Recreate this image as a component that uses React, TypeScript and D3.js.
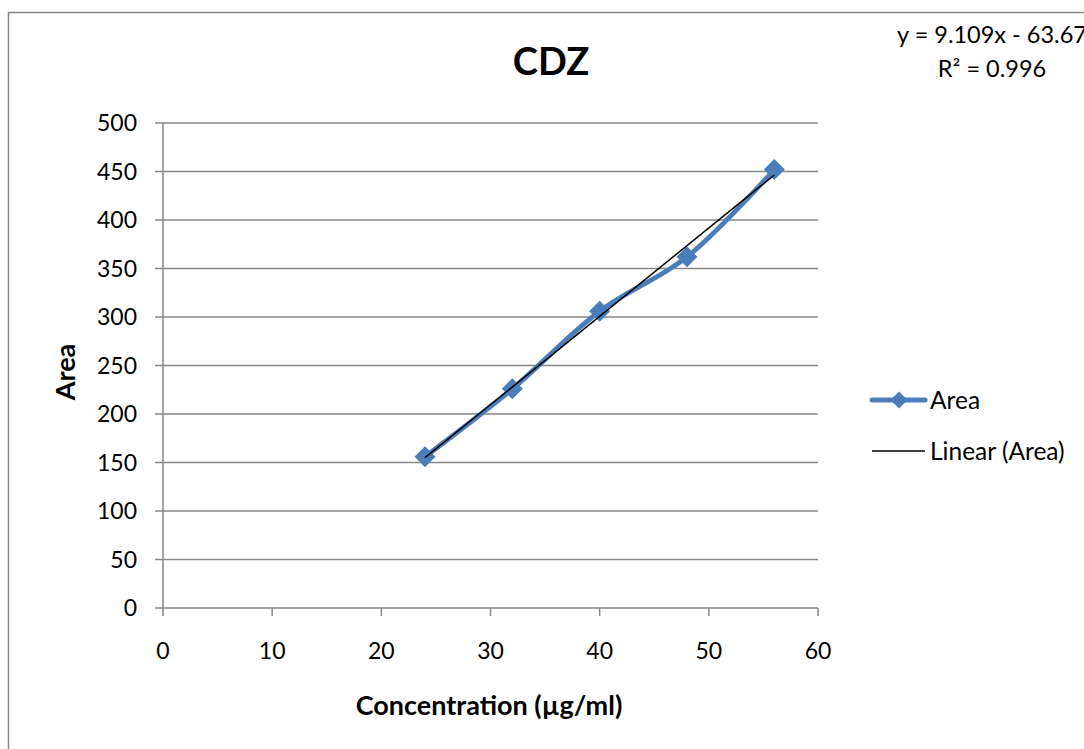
import React from "react";
import * as d3 from "d3";

const concentrations = [24, 32, 40, 48, 56];
const areas = [156, 226, 306, 362, 452];
const xTicks = [0, 10, 20, 30, 40, 50, 60];
const yTicks = [0, 50, 100, 150, 200, 250, 300, 350, 400, 450, 500];
const slope = 9.109;
const intercept = -63.67;
const r2 = 0.996;

const W = 1084, H = 749;
const FONT = "Lato, 'Open Sans', sans-serif";

export default function App() {
  const x = d3.scaleLinear().domain([0, 60]).range([163, 818]);
  const y = d3.scaleLinear().domain([0, 500]).range([608, 123]);
  const pts: [number, number][] = concentrations.map((c, i) => [x(c), y(areas[i])]);
  const line = d3.line().curve(d3.curveCatmullRom.alpha(0.5));
  const xmin = d3.min(concentrations)!, xmax = d3.max(concentrations)!;
  const trend: [number, number][] = [xmin, xmax].map((c) => [x(c), y(slope * c + intercept)]);
  const diamond = (cx: number, cy: number, r: number) =>
    `M${cx},${cy - r}L${cx + r},${cy}L${cx},${cy + r}L${cx - r},${cy}Z`;
  const blue = "#4a7ebb";
  const grid = "#878787";

  return (
    <svg width={W} height={H} style={{ position: "absolute", left: 0, top: 0 }} fontFamily={FONT}>
      <rect x={0} y={0} width={W} height={H} fill="#fff" />
      <rect x={8.5} y={12.5} width={1090} height={760} fill="none" stroke="#868686" strokeWidth={1.5} />
      <text x={551} y={75} textAnchor="middle" fontSize={38} fontWeight="bold" fill="#000">CDZ</text>
      {yTicks.map((t) => (
        <g key={"y" + t}>
          <line x1={x(0)} x2={x(60)} y1={y(t)} y2={y(t)} stroke={grid} strokeWidth={1.5} />
          <line x1={155} x2={x(0)} y1={y(t)} y2={y(t)} stroke={grid} strokeWidth={1.5} />
          <text x={137} y={y(t)} dy="0.36em" textAnchor="end" fontSize={23} fill="#000">{t}</text>
        </g>
      ))}
      <line x1={x(0)} x2={x(0)} y1={y(500)} y2={y(0)} stroke={grid} strokeWidth={1.5} />
      {xTicks.map((t) => (
        <g key={"x" + t}>
          <line x1={x(t)} x2={x(t)} y1={y(0)} y2={y(0) + 8} stroke={grid} strokeWidth={1.5} />
          <text x={x(t)} y={659} textAnchor="middle" fontSize={23} fill="#000">{t}</text>
        </g>
      ))}
      <text transform="translate(75,372) rotate(-90)" textAnchor="middle" fontSize={27} fontWeight="bold" fill="#000">Area</text>
      <text x={489} y={715} textAnchor="middle" fontSize={27} fontWeight="bold" fill="#000">Concentration (µg/ml)</text>
      <path d={line(pts) || ""} fill="none" stroke={blue} strokeWidth={5} strokeLinejoin="round" />
      {pts.map((p, i) => (
        <path key={"m" + i} d={diamond(p[0], p[1], 10.5)} fill={blue} />
      ))}
      <line x1={trend[0][0]} y1={trend[0][1]} x2={trend[1][0]} y2={trend[1][1]} stroke="#000" strokeWidth={1.5} />
      <text x={992} y={43} textAnchor="middle" fontSize={23.5} fill="#000">{`y = ${slope}x - ${Math.abs(intercept)}`}</text>
      <text x={992} y={77} textAnchor="middle" fontSize={23.5} fill="#000">R² = {r2}</text>
      <line x1={872} x2={925} y1={400} y2={400} stroke={blue} strokeWidth={5} strokeLinecap="round" />
      <path d={diamond(899, 400, 8.5)} fill={blue} />
      <text x={930} y={400} dy="0.36em" fontSize={24.5} fill="#000">Area</text>
      <line x1={872} x2={925} y1={451} y2={451} stroke="#000" strokeWidth={1.5} />
      <text x={930} y={451} dy="0.36em" fontSize={24.5} fill="#000">Linear (Area)</text>
    </svg>
  );
}
